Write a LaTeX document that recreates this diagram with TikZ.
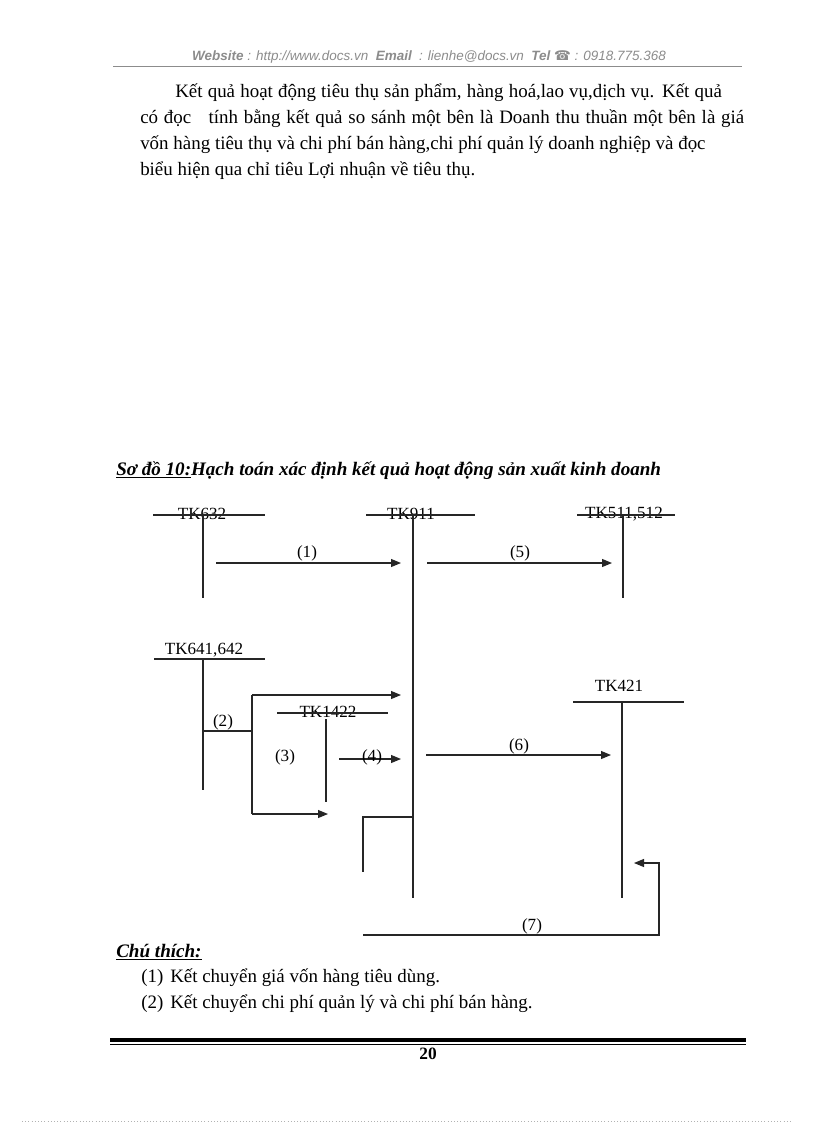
\documentclass[tikz,border=0pt]{standalone}
\usepackage{fontspec}
\setmainfont{Liberation Serif}
\newfontfamily\hdrfont{Liberation Sans}
\newfontfamily\symfont{DejaVu Sans}
\usetikzlibrary{arrows.meta}
\begin{document}
\begin{tikzpicture}[x=0.75pt,y=-0.75pt,
  line/.style={line width=0.8pt, draw=black!85},
  arr/.style={line, -{Triangle[length=7.5pt,width=6pt]}},
  lbl/.style={font=\fontsize{12.8}{14}\selectfont, inner sep=0pt},
  para/.style={anchor=base west, inner sep=0pt, font=\fontsize{14.2}{16}\selectfont},
  titl/.style={anchor=base west, inner sep=0pt, font=\bfseries\itshape\fontsize{14.3}{16}\selectfont}]
\useasboundingbox (0,0) rectangle (816,1123);
\fill[white] (0,0) rectangle (816,1123);

% header
\node[inner sep=0pt, font=\hdrfont\itshape\fontsize{10.1}{12}\selectfont, text=black!45] (hdr) at (429,57)
  {\textbf{Website} : http://www.docs.vn \ \textbf{Email} \ : lienhe@docs.vn \ \textbf{Tel} {\symfont\bfseries ☎} : 0918.775.368};
\draw[black!45, line width=0.6pt] (113,66) -- (742,66);

% paragraph
\node[para] (p1) at (175,98) {\hbox to 410pt{Kết quả hoạt động tiêu thụ sản phẩm, hàng hoá,lao vụ,dịch vụ. Kết quả}};
\node[para] (p2) at (140,124) {\hbox to 453pt{có đọc \ \ tính bằng kết quả so sánh một bên là Doanh thu thuần một bên là giá}};
\node[para] (p3) at (140,150) {\hbox to 424pt{vốn hàng tiêu thụ và chi phí bán hàng,chi phí quản lý doanh nghiệp và đọc}};
\node[para] (p4) at (140,176) {biểu hiện qua chỉ tiêu Lợi nhuận về tiêu thụ.};

% title
\node[titl] (title) at (116,475) {\underline{Sơ đồ 10:}Hạch toán xác định kết quả hoạt động sản xuất kinh doanh};

% T accounts
\node[lbl] (tk632) at (202,514) {TK632};
\coordinate (l632a) at (153,515); \coordinate (l632b) at (265,515);
\coordinate (v632a) at (203,515); \coordinate (v632b) at (203,598);
\draw[line] (l632a) -- (l632b); \draw[line] (v632a) -- (v632b);

\node[lbl] (tk911) at (411,514) {TK911};
\coordinate (l911a) at (366,515); \coordinate (l911b) at (475,515);
\coordinate (v911a) at (413,515); \coordinate (v911b) at (413,898);
\draw[line] (l911a) -- (l911b); \draw[line] (v911a) -- (v911b);

\node[lbl] (tk511) at (624,514) {TK511,512};
\coordinate (l511a) at (577,515); \coordinate (l511b) at (675,515);
\coordinate (v511a) at (623,515); \coordinate (v511b) at (623,598);
\draw[line] (l511a) -- (l511b); \draw[line] (v511a) -- (v511b);

\node[lbl] (tk641) at (204,650) {TK641,642};
\coordinate (l641a) at (154,659); \coordinate (l641b) at (265,659);
\coordinate (v641a) at (203,659); \coordinate (v641b) at (203,790);
\draw[line] (l641a) -- (l641b); \draw[line] (v641a) -- (v641b);

\node[lbl] (tk1422) at (328,712) {TK1422};
\coordinate (l1422a) at (277,713); \coordinate (l1422b) at (388,713);
\coordinate (v1422a) at (326,719); \coordinate (v1422b) at (326,802);
\draw[line] (l1422a) -- (l1422b); \draw[line] (v1422a) -- (v1422b);

\node[lbl] (tk421) at (619,686) {TK421};
\coordinate (l421a) at (573,702); \coordinate (l421b) at (684,702);
\coordinate (v421a) at (622,702); \coordinate (v421b) at (622,898);
\draw[line] (l421a) -- (l421b); \draw[line] (v421a) -- (v421b);

% (1)
\coordinate (s1) at (216,563); \coordinate (e1) at (401,563);
\draw[arr] (s1) -- (e1);
\node[lbl] (n1) at (307,553) {(1)};
% (5)
\coordinate (s5) at (427,563); \coordinate (e5) at (612,563);
\draw[arr] (s5) -- (e5);
\node[lbl] (n5) at (520,553) {(5)};
% (2)
\coordinate (s2) at (203,731); \coordinate (j2) at (252,731);
\coordinate (j2t) at (252,695); \coordinate (j2b) at (252,814);
\coordinate (e2t) at (401,695); \coordinate (e2b) at (328,814);
\draw[line] (s2) -- (j2);
\draw[line] (j2t) -- (j2b);
\draw[arr] (j2t) -- (e2t);
\draw[arr] (j2b) -- (e2b);
\node[lbl] (n2) at (223,722) {(2)};
\node[lbl] (n3) at (285,757) {(3)};
% (4)
\coordinate (s4) at (339,759); \coordinate (e4) at (401,759);
\draw[arr] (s4) -- (e4);
\node[lbl] (n4) at (372,757) {(4)};
% (6)
\coordinate (s6) at (426,755); \coordinate (e6) at (611,755);
\draw[arr] (s6) -- (e6);
\node[lbl] (n6) at (519,746) {(6)};
% branch
\coordinate (b1) at (413,817); \coordinate (b2) at (363,817); \coordinate (b3) at (363,872);
\draw[line] (b1) -- (b2) -- (b3);
% (7)
\coordinate (s7) at (363,935); \coordinate (c7) at (659,935); \coordinate (d7) at (659,863); \coordinate (e7) at (634,863);
\draw[arr] (s7) -- (c7) -- (d7) -- (e7);
\node[lbl] (n7) at (532,926) {(7)};

% legend
\node[titl] (chu) at (116,957) {\underline{Chú thích:}};
\node[para] (k1) at (141,982) {(1)};
\node[para] (t1) at (170,982) {Kết chuyển giá vốn hàng tiêu dùng.};
\node[para] (k2) at (141,1008) {(2)};
\node[para] (t2) at (170,1008) {Kết chuyển chi phí quản lý và chi phí bán hàng.};

% footer
\fill[black] (110,1038) rectangle (746,1042);
\draw[black, line width=0.7pt] (110,1044.5) -- (746,1044.5);
\node[inner sep=0pt, font=\bfseries\fontsize{13}{15}\selectfont] (pg) at (428,1054) {20};
\draw[black!30, dotted, line width=0.4pt] (22,1121) -- (792,1121);
\end{tikzpicture}
\end{document}
